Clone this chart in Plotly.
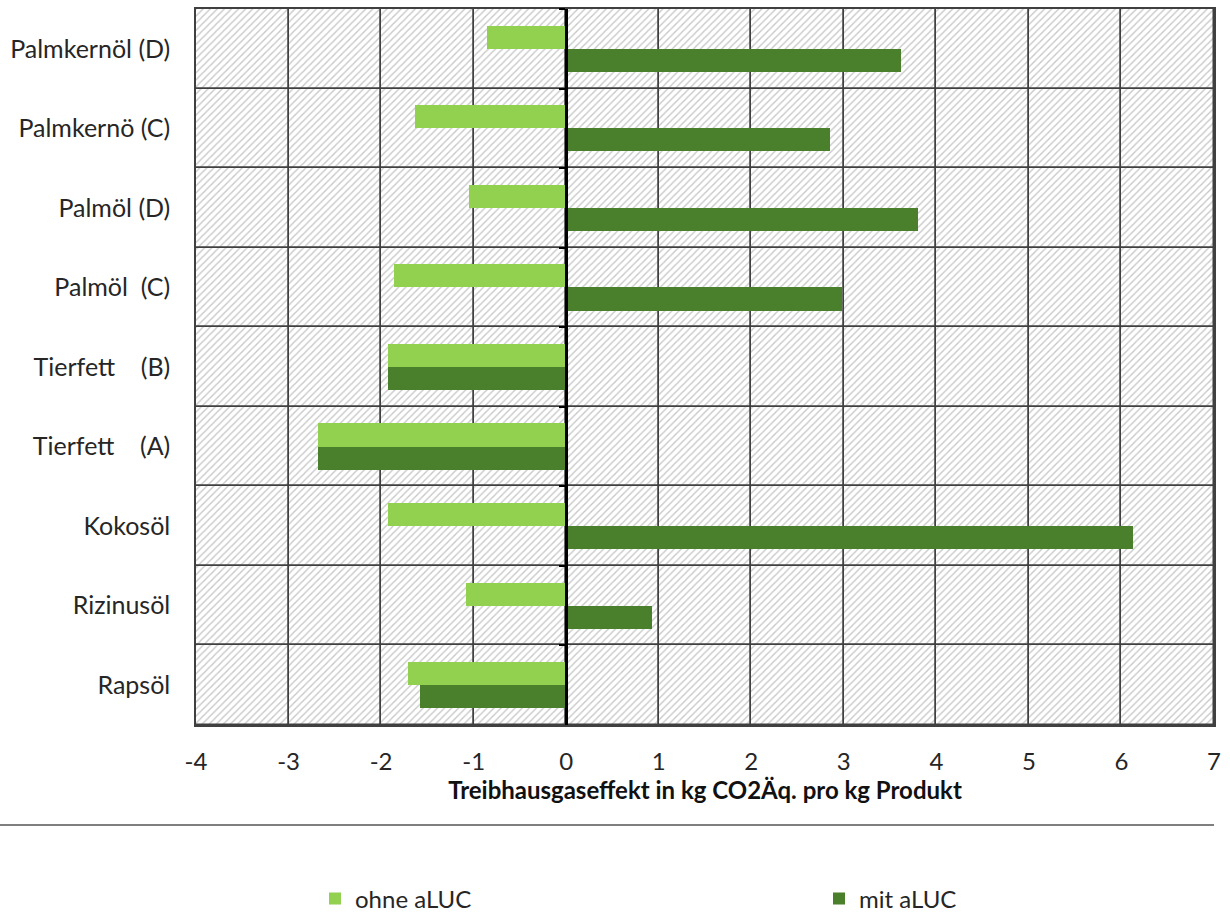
import plotly.graph_objects as go

categories = ["Palmkernöl (D)", "Palmkernö (C)", "Palmöl (D)", "Palmöl\u00a0\u00a0(C)",
              "Tierfett\u00a0\u00a0\u00a0\u00a0(B)", "Tierfett\u00a0\u00a0\u00a0\u00a0(A)",
              "Kokosöl", "Rizinusöl", "Rapsöl"]
ohne_aLUC = [-0.86, -1.63, -1.05, -1.86, -1.93, -2.68, -1.93, -1.08, -1.71]
mit_aLUC = [3.62, 2.85, 3.80, 2.98, -1.93, -2.68, 6.13, 0.93, -1.58]
x_min, x_max = -4, 7
x_ticks = list(range(-4, 8))

FONT = "Lato"
LIGHT = "#92d050"
DARK = "#4a7f2b"
GRID = "#404040"
TEXT = "#262626"

fig = go.Figure()

# hatched background cells (one per category and unit interval); their outlines form the grid
cell_y = [c for c in categories for _ in x_ticks[:-1]]
cell_base = [k for _ in categories for k in x_ticks[:-1]]
cell_len = [1 for _ in categories for _ in x_ticks[:-1]]
fig.add_trace(go.Bar(
    y=cell_y, x=cell_len, base=cell_base,
    orientation="h", width=1, offset=-0.5,
    marker=dict(color="rgba(0,0,0,0)", line=dict(width=1.5, color=GRID),
                pattern=dict(shape="/", size=5, solidity=0.28, fgcolor="#c8c8c8",
                             bgcolor="rgba(0,0,0,0)", fillmode="replace")),
    showlegend=False, hoverinfo="skip", xaxis="x", yaxis="y",
))

fig.add_trace(go.Bar(
    y=categories, x=ohne_aLUC, orientation="h", name="ohne aLUC",
    width=0.29, offset=-0.29, marker=dict(color=LIGHT, line=dict(width=0)),
    xaxis="x", yaxis="y2", legend="legend",
))
fig.add_trace(go.Bar(
    y=categories, x=mit_aLUC, orientation="h", name="mit aLUC",
    width=0.29, offset=0.0, marker=dict(color=DARK, line=dict(width=0)),
    xaxis="x", yaxis="y2", legend="legend2",
))

yrange = [len(categories) - 0.5, -0.5]
leg_common = dict(orientation="h", yref="container", y=(915 - 899) / 915, yanchor="middle",
                  font=dict(size=24, color=TEXT), bgcolor="rgba(0,0,0,0)")

fig.update_layout(
    width=1230, height=915,
    margin=dict(l=196, r=16, t=9, b=190, autoexpand=False),
    plot_bgcolor="white", paper_bgcolor="white",
    barmode="overlay", bargap=0,
    font=dict(family=FONT, size=24, color=TEXT),
    hovermode=False,
    xaxis=dict(
        range=[x_min, x_max], tickvals=x_ticks, ticktext=[str(v) for v in x_ticks],
        showgrid=False, zeroline=False, automargin=False,
        showline=True, linecolor=GRID, linewidth=1.5, mirror=True,
        ticks="", ticklabelstandoff=14,
        tickfont=dict(size=24, color=TEXT),
        title=dict(text="<b>Treibhausgaseffekt in kg CO2Äq. pro kg Produkt</b>",
                   font=dict(size=24, color="#111111"), standoff=3),
        fixedrange=True,
    ),
    yaxis=dict(
        type="category", categoryorder="array", categoryarray=categories,
        range=yrange, showgrid=False, automargin=False,
        showline=True, linecolor=GRID, linewidth=1.5, mirror=True,
        ticks="", ticklabelstandoff=19,
        tickfont=dict(size=25, color=TEXT), fixedrange=True,
    ),
    yaxis2=dict(
        type="category", categoryorder="array", categoryarray=categories,
        range=yrange, overlaying="y", anchor="free", position=(0 - x_min) / (x_max - x_min),
        side="left", tickson="boundaries", ticks="outside", ticklen=6, tickwidth=2,
        tickcolor="black", showticklabels=False, showgrid=False, automargin=False,
        showline=True, linecolor="black", linewidth=2.5, fixedrange=True,
    ),
    legend=dict(x=(315 - 196) / 1018, xanchor="left", **leg_common),
    legend2=dict(x=(819 - 196) / 1018, xanchor="left", **leg_common),
    shapes=[dict(type="line", xref="paper", yref="paper", x0=-196 / 1018, x1=1.0,
                 y0=-100 / 716, y1=-100 / 716, line=dict(color="#555555", width=1.5))],
)

fig.write_html("out.html", post_script="document.body.style.margin='0';",
               config={"displayModeBar": False})
